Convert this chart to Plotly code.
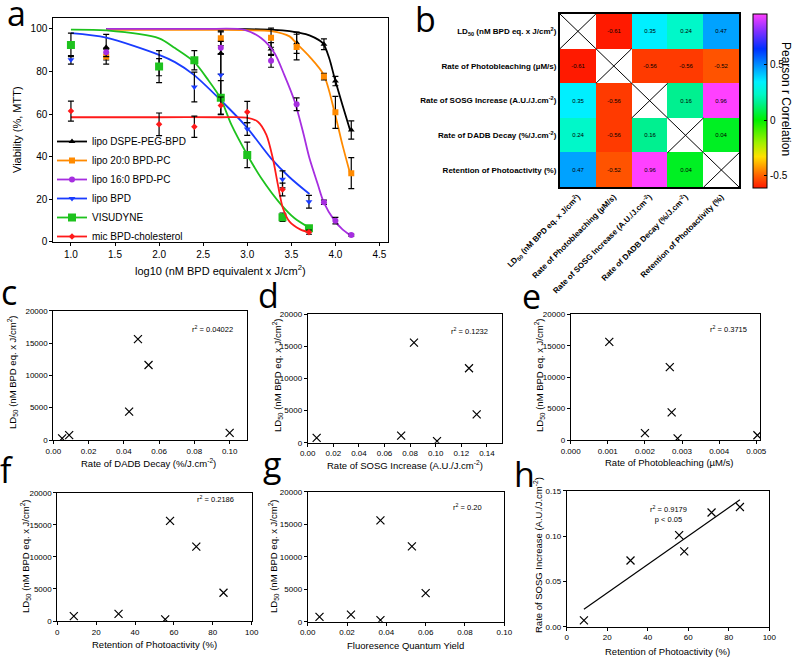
import plotly.graph_objects as go
import numpy as np

W, H = 800, 659
OFF = 0  # page body margin removed below
def px(x): return (x - OFF) / W
def py(y): return 1 - (y - OFF) / H

FONT = "Liberation Sans"

# ---------------- Panel a: dose response ----------------
series_names = ["lipo DSPE-PEG-BPD", "lipo 20:0 BPD-PC", "lipo 16:0 BPD-PC",
                "lipo BPD", "VISUDYNE", "mic BPD-cholesterol"]
series_colors = ["#000000", "#ff8a00", "#a62ee0", "#1a3cff", "#1ec21e", "#ff1a1a"]
series_symbols = ["triangle-up", "square", "circle", "triangle-down", "square", "diamond"]
series_msize = [6, 6, 6, 6, 8, 5]

dspe_x = [1.4, 2.7, 3.27, 3.56, 3.87, 4.0, 4.18]
dspe_y = [91.4, 88.6, 90.6, 93.5, 92.8, 75.5, 52.5]
dspe_e = [6, 10, 3, 5, 2.5, 2.2, 4.3]
pc20_x = [1.4, 2.7, 3.27, 3.56, 3.87, 4.0, 4.18]
pc20_y = [87, 95.6, 95.9, 91.5, 77.6, 60.8, 32.2]
pc20_e = [3.5, 3.5, 4.5, 6, 1.5, 7.5, 7.3]
pc16_x = [1.4, 2.7, 3.27, 3.56, 3.87, 4.0, 4.18]
pc16_y = [89, 91.2, 85, 64.6, 18.5, 9.9, 3.1]
pc16_e = [2, 3, 3, 3, 1, 1.5, 0.5]
bpd_x = [1.0, 2.0, 2.4, 2.7, 3.0, 3.4, 3.7]
bpd_y = [85.5, 82, 72.7, 78.4, 53, 29.3, 18.8]
bpd_e = [2, 4, 7, 10, 3, 4, 3]
vis_x = [1.0, 2.0, 2.4, 2.7, 3.0, 3.4, 3.7]
vis_y = [92.5, 82.3, 85.3, 67.7, 40.8, 11.5, 6.3]
vis_e = [5.5, 7.5, 4.5, 8, 6, 2, 1]
mic_x = [1.0, 2.0, 2.4, 2.7, 3.0, 3.4, 3.7]
mic_y = [61.4, 55.2, 54, 64, 61, 24.5, 4.5]
mic_e = [4.7, 5.3, 5, 4, 5, 3, 1]

# fitted curves
dspe_cx = [1.4, 2.5, 3.0, 3.3, 3.48, 3.58, 3.706, 3.857, 3.93, 3.99, 4.08, 4.166]
dspe_cy = [100, 100, 99.9, 99.6, 99, 98.3, 97.0, 93.3, 86.2, 77, 64.3, 52.5]
pc20_cx = [1.4, 2.5, 3.0, 3.27, 3.48, 3.563, 3.706, 3.868, 3.99, 4.08, 4.166]
pc20_cy = [99.6, 99.6, 99.4, 99, 96.5, 93, 87, 78.4, 61, 45.5, 32.2]
pc16_cx = [1.4, 2.5, 2.97, 3.16, 3.31, 3.42, 3.537, 3.63, 3.706, 3.8, 3.868, 3.99, 4.08, 4.166]
pc16_cy = [100, 100, 99.6, 95.6, 88.6, 78.4, 66, 52, 39.2, 27, 18.5, 9.9, 5.8, 3.1]
bpd_cx = [1.0, 1.4, 2.0, 2.18, 2.395, 2.697, 2.99, 3.27, 3.48, 3.706]
bpd_cy = [98, 95.9, 87.8, 84.4, 78.4, 66.6, 54, 39.2, 30.3, 22.4]
vis_cx = [1.0, 1.4, 2.0, 2.18, 2.395, 2.557, 2.697, 2.82, 2.99, 3.16, 3.386, 3.537, 3.706]
vis_cy = [99.7, 99.3, 95.6, 91, 84.6, 76, 67.4, 55, 41.6, 29.8, 17.3, 11, 6.5]
mic_cx = [1.0, 2.0, 2.7, 2.99, 3.12, 3.217, 3.29, 3.348, 3.405, 3.48, 3.6, 3.706]
mic_cy = [58.5, 58.5, 58.5, 58.3, 56.4, 50.2, 39.2, 26.7, 15.7, 9.4, 5.8, 4.4]

pts = [(dspe_x, dspe_y, dspe_e), (pc20_x, pc20_y, pc20_e), (pc16_x, pc16_y, pc16_e),
       (bpd_x, bpd_y, bpd_e), (vis_x, vis_y, vis_e), (mic_x, mic_y, mic_e)]
curves = [(dspe_cx, dspe_cy), (pc20_cx, pc20_cy), (pc16_cx, pc16_cy),
          (bpd_cx, bpd_cy), (vis_cx, vis_cy), (mic_cx, mic_cy)]

# ---------------- Panel b: correlation matrix ----------------
var_labels = ["LD<sub>50</sub> (nM BPD eq. x J/cm<sup>2</sup>)",
              "Rate of Photobleaching (µM/s)",
              "Rate of SOSG Increase (A.U./J.cm<sup>-2</sup>)",
              "Rate of DADB Decay (%/J.cm<sup>-2</sup>)",
              "Retention of Photoactivity (%)"]
corr = [[None, -0.61, 0.35, 0.24, 0.47],
        [-0.61, None, -0.56, -0.56, -0.52],
        [0.35, -0.56, None, 0.16, 0.96],
        [0.24, -0.56, 0.16, None, 0.04],
        [0.47, -0.52, 0.96, 0.04, None]]
cbar_ticks = [-0.5, 0, 0.5]
cbar_ticktext = ["-0.5", "0", "0.5"]

# ---------------- Panels c-h: scatter ----------------
ld50 = [750, 1100, 250, 15600, 11600, 4400]
retention = [8.5, 31.5, 55.5, 58, 71.5, 85.5]
sosg = [0.007, 0.073, 0.101, 0.083, 0.126, 0.132]
dadb = [0.009, 0.100, 0.005, 0.048, 0.054, 0.043]
photobleach = [0.00503, 0.0020, 0.00288, 0.00104, 0.00267, 0.00272]
fqy = [0.006, 0.022, 0.037, 0.037, 0.053, 0.060]
r2_texts = ["r<sup>2</sup> = 0.04022", "r<sup>2</sup> = 0.1232", "r<sup>2</sup> = 0.3715",
            "r<sup>2</sup> = 0.2186", "r<sup>2</sup> = 0.20", "r<sup>2</sup> = 0.9179<br>p < 0.05"]

fig = go.Figure()

# panel a traces
for i in range(6):
    x, y, e = pts[i]
    cx, cy = curves[i]
    fig.add_trace(go.Scatter(x=cx, y=cy, mode="lines", line=dict(color=series_colors[i], width=1.8,
                             shape="spline", smoothing=0.8), showlegend=False, hoverinfo="skip",
                             xaxis="x", yaxis="y"))
    fig.add_trace(go.Scatter(x=x, y=y, mode="markers",
                             marker=dict(color=series_colors[i], symbol=series_symbols[i], size=series_msize[i]),
                             error_y=dict(type="data", array=e, color="black", thickness=1.2, width=3),
                             showlegend=False, xaxis="x", yaxis="y"))
for i in range(6):
    fig.add_trace(go.Scatter(x=[None], y=[None], mode="lines+markers", name=series_names[i],
                             line=dict(color=series_colors[i], width=1.8),
                             marker=dict(color=series_colors[i], symbol=series_symbols[i], size=series_msize[i]),
                             xaxis="x", yaxis="y"))

# panel b heatmap
cell_text = [["" if v is None else ("%.2f" % v) for v in row] for row in corr]
n = len(var_labels)
idx = list(range(n))
cscale = [[0.0, "#ff1a00"], [0.07, "#ff6000"], [0.18, "#ffe000"], [0.26, "#a0f000"],
          [0.39, "#00f000"], [0.49, "#00f090"], [0.54, "#00f8c8"], [0.61, "#00f0ff"],
          [0.69, "#00a0ff"], [0.80, "#0030ff"], [0.90, "#8030ff"], [1.0, "#ff40ff"]]
fig.add_trace(go.Heatmap(z=corr, x=idx, y=idx, text=cell_text, texttemplate="%{text}",
                         textfont=dict(size=6, color="black"), colorscale=cscale,
                         zmin=-0.61, zmax=0.96, hoverongaps=False, xaxis="x2", yaxis="y2",
                         colorbar=dict(x=px(753), xanchor="left", xpad=0, y=py(101), yanchor="middle",
                                       len=174 / H, lenmode="fraction", thickness=14, thicknessmode="pixels",
                                       outlinecolor="black", outlinewidth=1, ypad=0,
                                       tickvals=cbar_ticks, ticktext=cbar_ticktext, ticks="inside",
                                       ticklen=3, tickcolor="black",
                                       tickfont=dict(size=10, color="black", family=FONT))))
dx, dy = [], []
for i in idx:
    dx += [i - 0.5, i + 0.5, None, i - 0.5, i + 0.5, None]
    dy += [i - 0.5, i + 0.5, None, i + 0.5, i - 0.5, None]
fig.add_trace(go.Scatter(x=dx, y=dy, mode="lines", line=dict(color="black", width=1),
                         showlegend=False, hoverinfo="skip", xaxis="x2", yaxis="y2"))

# panels c-h
scatter_panels = [
    (dadb, ld50, "x3", "y3"),
    (sosg, ld50, "x4", "y4"),
    (photobleach, ld50, "x5", "y5"),
    (retention, ld50, "x6", "y6"),
    (fqy, ld50, "x7", "y7"),
    (retention, sosg, "x8", "y8"),
]
for xs, ys, xa, ya in scatter_panels:
    fig.add_trace(go.Scatter(x=xs, y=ys, mode="markers",
                             marker=dict(symbol="x-thin", size=8, color="black",
                                         line=dict(width=1.2, color="black")),
                             showlegend=False, xaxis=xa, yaxis=ya))
# linear fit in h
slope, intercept = np.polyfit(retention, sosg, 1)
fit_x = [min(retention), max(retention)]
fit_y = [slope * v + intercept for v in fit_x]
fig.add_trace(go.Scatter(x=fit_x, y=fit_y, mode="lines", line=dict(color="black", width=1.2),
                         showlegend=False, hoverinfo="skip", xaxis="x8", yaxis="y8"))

def axis(dom, rng, anchor, fs=8, **kw):
    d = dict(domain=dom, range=rng, anchor=anchor, showline=True, linecolor="black", linewidth=1,
             mirror=True, ticks="outside", ticklen=3, tickcolor="black", tickwidth=1,
             showgrid=False, zeroline=False, tickfont=dict(size=fs, color="black", family=FONT))
    d.update(kw)
    return d

lay = dict(
    width=W, height=H, margin=dict(l=0, r=0, t=0, b=0, autoexpand=False),
    paper_bgcolor="white", plot_bgcolor="white",
    font=dict(family=FONT, color="black"),
    showlegend=True,
    legend=dict(x=px(52), y=py(127), xanchor="left", yanchor="top", bgcolor="rgba(0,0,0,0)",
                font=dict(size=10, color="black", family=FONT), itemwidth=30, tracegroupgap=0),
    xaxis=axis([px(53.3), px(388.3)], [0.8, 4.6], "y", fs=10, tickvals=[1.0, 1.5, 2.0, 2.5, 3.0, 3.5, 4.0, 4.5],
               tickformat=".1f"),
    yaxis=axis([py(241.7), py(18.3)], [0, 105], "x", fs=10, tickvals=[0, 20, 40, 60, 80, 100]),
    xaxis2=dict(domain=[px(560), px(739.3)], range=[-0.5, 4.5], anchor="y2", showline=True, linecolor="black",
                linewidth=2, mirror=True, showgrid=False, zeroline=False, ticks="", tickvals=idx,
                ticktext=var_labels, tickangle=-45,
                tickfont=dict(size=8, color="black", family=FONT, weight="bold")),
    yaxis2=dict(domain=[py(187.3), py(14)], range=[4.5, -0.5], anchor="x2", showline=True, linecolor="black",
                linewidth=2, mirror=True, showgrid=False, zeroline=False, ticks="", tickvals=idx,
                ticktext=var_labels, tickfont=dict(size=8, color="black", family=FONT, weight="bold")),
    xaxis3=axis([px(53.3), px(247.3)], [0, 0.11], "y3", tickvals=[0, 0.02, 0.04, 0.06, 0.08, 0.10], tickformat=".2f"),
    yaxis3=axis([py(440), py(310.7)], [0, 20000], "x3", tickvals=[0, 5000, 10000, 15000, 20000], tickformat="d"),
    xaxis4=axis([px(307.7), px(502.3)], [0, 0.152], "y4", tickvals=[0, 0.02, 0.04, 0.06, 0.08, 0.10, 0.12, 0.14], tickformat=".2f"),
    yaxis4=axis([py(442.7), py(314.3)], [0, 20000], "x4", tickvals=[0, 5000, 10000, 15000, 20000], tickformat="d"),
    xaxis5=axis([px(570.7), px(760)], [0, 0.0051], "y5", tickvals=[0, 0.001, 0.002, 0.003, 0.004, 0.005], tickformat=".3f"),
    yaxis5=axis([py(440), py(314.3)], [0, 20000], "x5", tickvals=[0, 5000, 10000, 15000, 20000], tickformat="d"),
    xaxis6=axis([px(57.3), px(251.7)], [0, 100], "y6", tickvals=[0, 20, 40, 60, 80, 100]),
    yaxis6=axis([py(621), py(492.7)], [0, 20000], "x6", tickvals=[0, 5000, 10000, 15000, 20000], tickformat="d"),
    xaxis7=axis([px(307.7), px(504.3)], [0, 0.10], "y7", tickvals=[0, 0.02, 0.04, 0.06, 0.08, 0.10], tickformat=".2f"),
    yaxis7=axis([py(621.7), py(491.7)], [0, 20000], "x7", tickvals=[0, 5000, 10000, 15000, 20000], tickformat="d"),
    xaxis8=axis([px(566.7), px(769.3)], [0, 100], "y8", tickvals=[0, 20, 40, 60, 80, 100]),
    yaxis8=axis([py(626.7), py(490.7)], [0, 0.15], "x8", tickvals=[0, 0.05, 0.10, 0.15], tickformat=".2f"),
)
fig.update_layout(**lay)

ann = []
def text(x, y, s, size, angle=0, xanchor="center", yanchor="middle", fam=FONT, align="center"):
    ann.append(dict(x=px(x), y=py(y), xref="paper", yref="paper", text=s, showarrow=False,
                    textangle=angle, xanchor=xanchor, yanchor=yanchor, align=align,
                    font=dict(size=size, color="black", family=fam)))

# panel letters
for lt, lx, ly in [("a", 16, 13), ("b", 425, 19), ("c", 9, 292), ("d", 268, 295), ("e", 531, 296),
                   ("f", 6, 470), ("g", 272, 464), ("h", 524, 474)]:
    text(lx, ly, lt, 34, fam="Open Sans")

# panel a titles
text(220, 270, "log10 (nM BPD equivalent x J/cm<sup>2</sup>)", 11)
text(17, 130, "Viability (%, MTT)", 11, angle=-90)
# colorbar title
text(786, 99, "Pearson r Correlation", 12, angle=90)

ld_title = "LD<sub>50</sub> (nM BPD eq. x J/cm<sup>2</sup>)"
sosg_title = "Rate of SOSG Increase (A.U./J.cm<sup>-2</sup>)"
ret_title = "Retention of Photoactivity (%)"
text(148, 463, "Rate of DADB Decay (%/J.cm<sup>-2</sup>)", 9.5)
text(12, 372, ld_title, 9.5, angle=-90)
text(405, 465, sosg_title, 9.5)
text(277, 375, ld_title, 9.5, angle=-90)
text(669, 462.7, "Rate of Photobleaching (µM/s)", 9.5)
text(539, 375, ld_title, 9.5, angle=-90)
text(154, 644, ret_title, 9.5)
text(25, 556, ld_title, 9.5, angle=-90)
text(406, 645, "Fluoresence Quantum Yield", 9.5)
text(273, 556, ld_title, 9.5, angle=-90)
text(667, 651.7, ret_title, 9.5)
text(538, 555, sosg_title, 9.5, angle=-90)

# r2 labels
for (tx, ty), s in zip([(212, 329), (469, 331), (728, 329), (215, 499), (467, 507), (668, 514)], r2_texts):
    text(tx, ty, s, 7.5)

fig.update_layout(annotations=ann)
fig.write_html("out.html", config={"displayModeBar": False},
               post_script="document.body.style.margin='0px';")
